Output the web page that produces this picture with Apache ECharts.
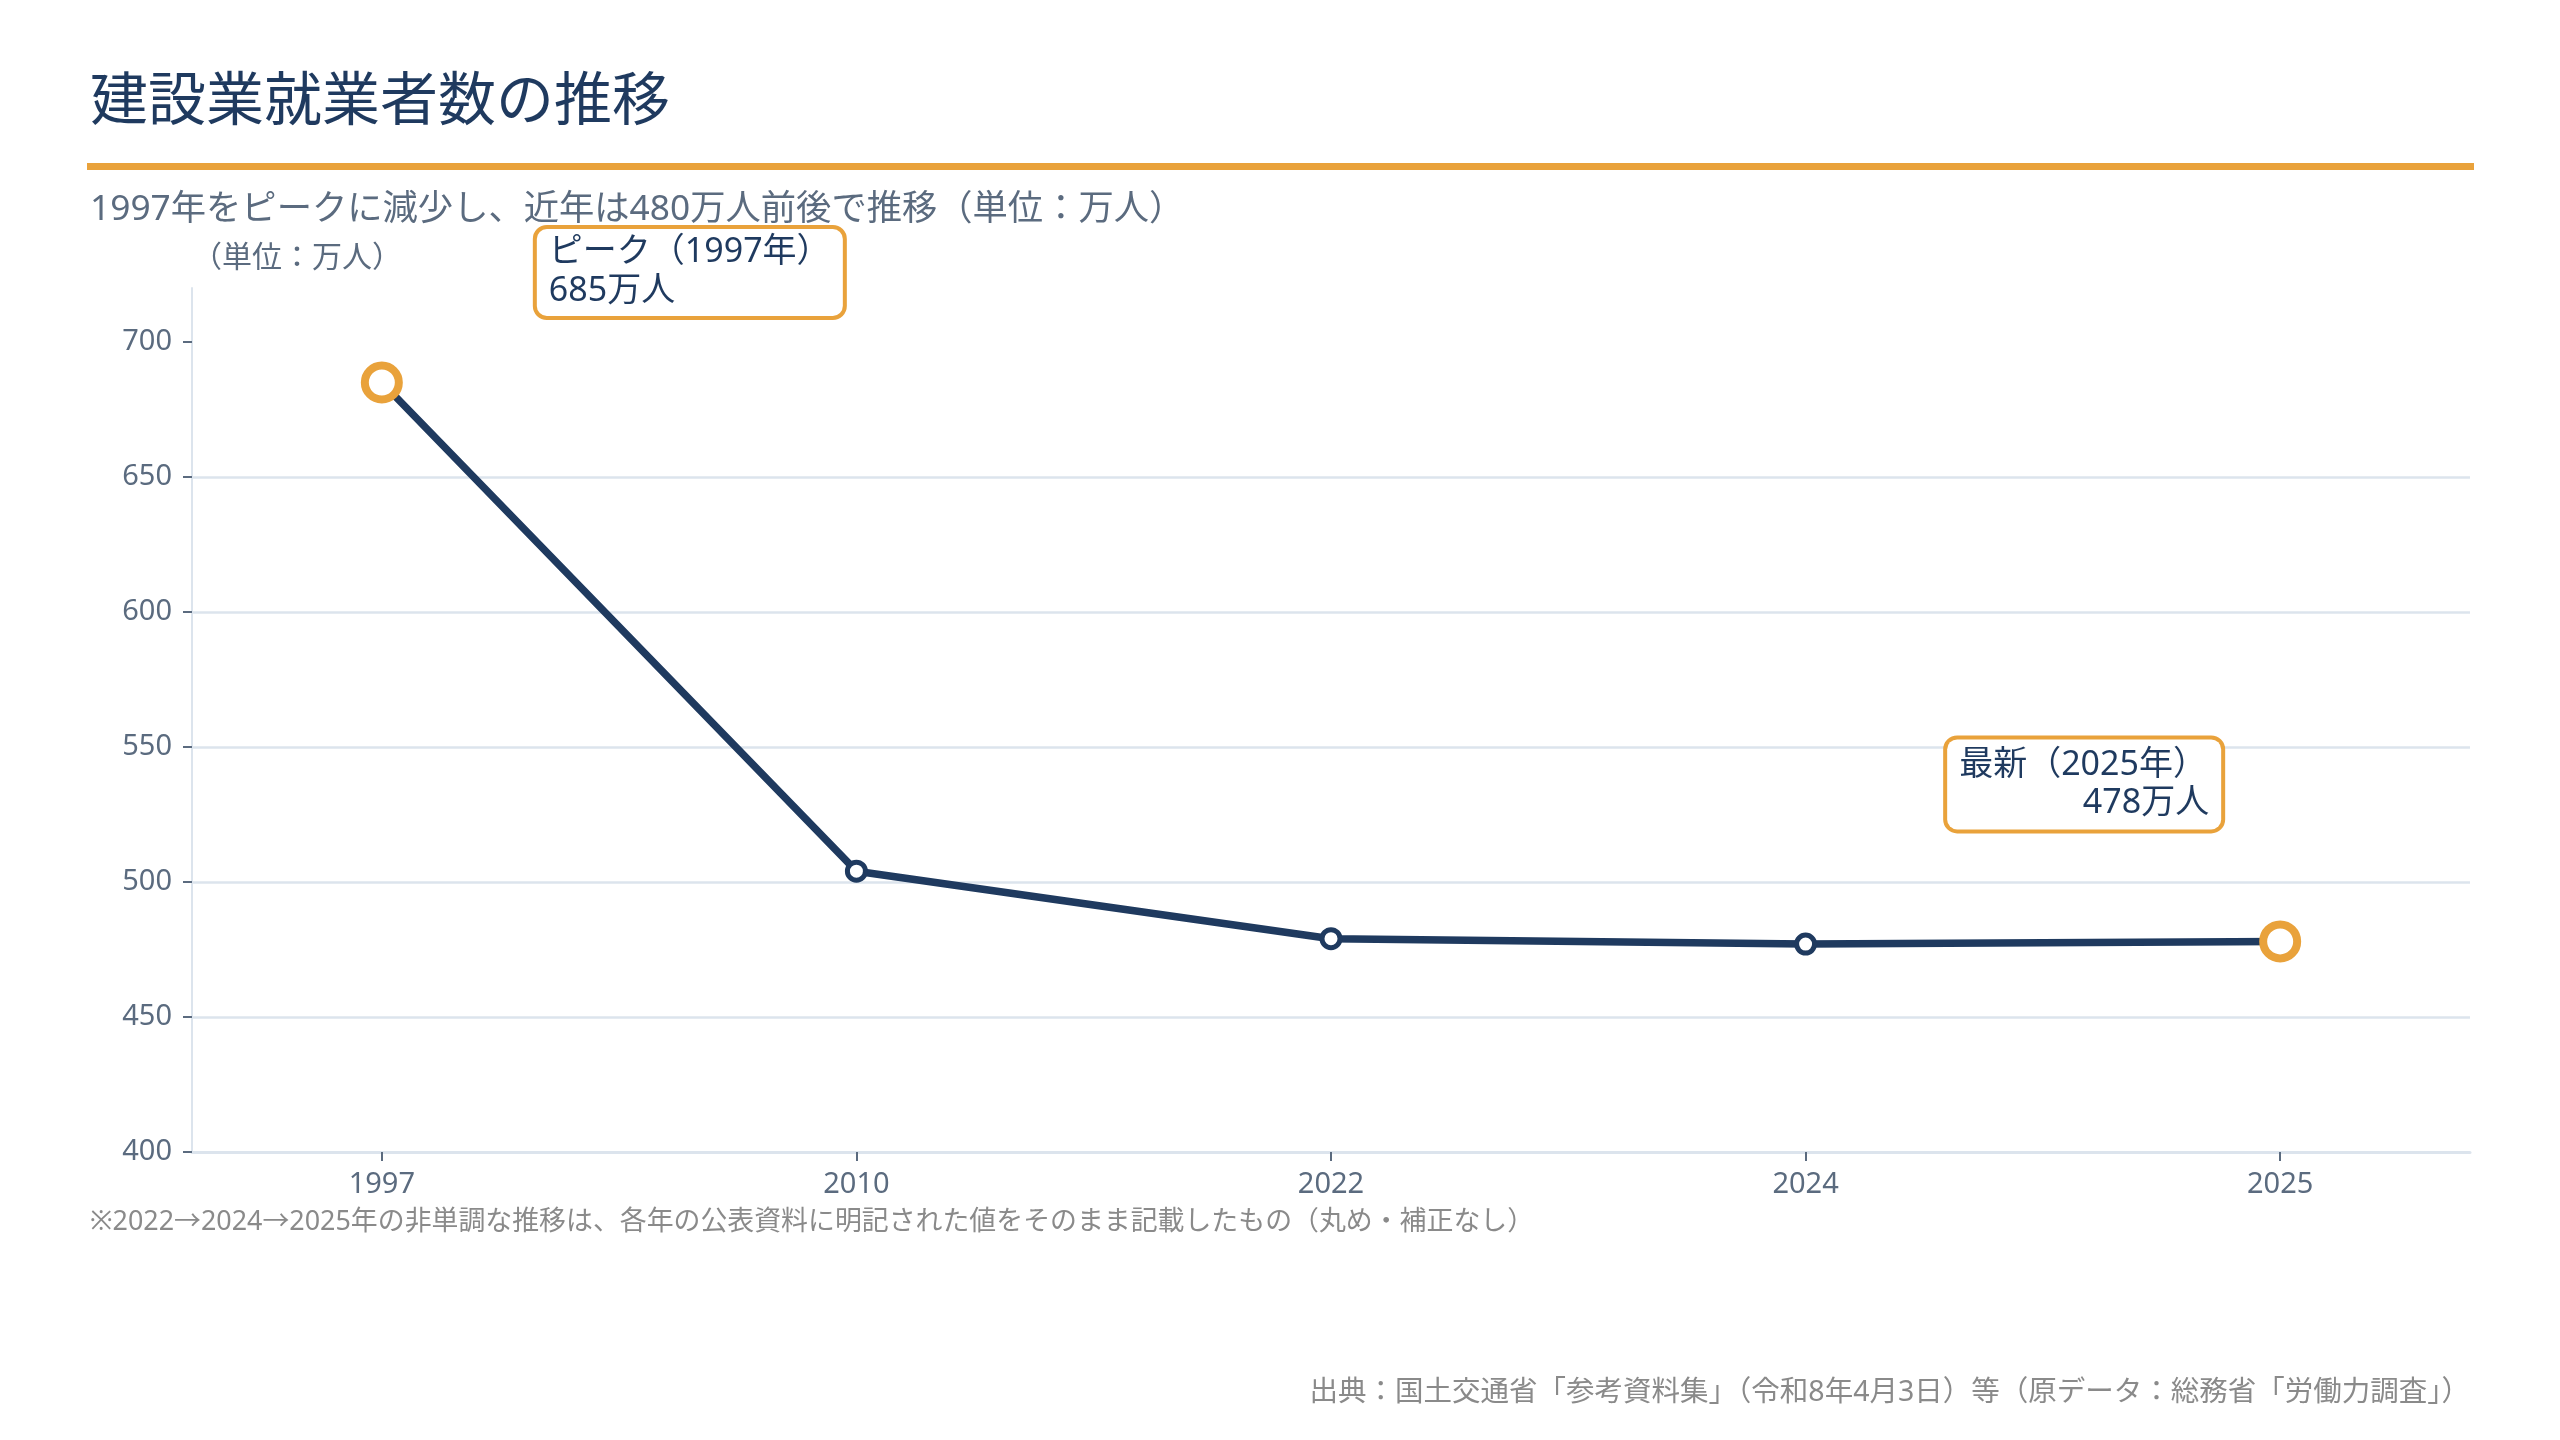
<!DOCTYPE html>
<html>
<head>
<meta charset="utf-8">
<title>建設業就業者数の推移</title>
<script src="https://cdn.jsdelivr.net/npm/echarts@6/dist/echarts.min.js"></script>
<style>
  html, body { margin: 0; padding: 0; background: #fff; }
  #chart { width: 2560px; height: 1440px; }
</style>
</head>
<body>
<div id="chart"></div>
<script>
// 年（カテゴリ）と就業者数（万人）
var years = ['1997', '2010', '2022', '2024', '2025'];
var workers = [685, 504, 479, 477, 478];
// 軸の目盛
var yTicks = [400, 450, 500, 550, 600, 650, 700];
var xTicks = [0, 1, 2, 3, 4];

var NAVY = '#1f3a5f';
var ORANGE = '#e9a23b';
var GRID = '#dce4ed';
var LABEL = '#5b6b7f';
var NOTE = '#8a8a8a';
var FONT = '"Noto Sans", "Noto Sans CJK JP", sans-serif';

var last = workers.length - 1;

// 点のスタイル（両端だけオレンジの大きな丸）
var points = workers.map(function (v, i) {
  var edge = i === 0 || i === last;
  return {
    value: [i, v],
    symbolSize: edge ? 34 : 18,
    itemStyle: {
      color: '#fff',
      borderColor: edge ? ORANGE : NAVY,
      borderWidth: edge ? 8 : 5
    }
  };
});

function boxLabel(extra) {
  var base = {
    show: true,
    position: 'inside',
    backgroundColor: '#fff',
    borderColor: ORANGE,
    borderWidth: 4,
    borderRadius: 10,
    fontSize: 34,
    color: NAVY,
    fontFamily: FONT
  };
  var lh = extra.lineHeight;
  base.rich = {
    l: { align: 'left', fontSize: 34, lineHeight: lh, color: NAVY, fontFamily: FONT },
    r: { align: 'right', fontSize: 34, lineHeight: lh, color: NAVY, fontFamily: FONT }
  };
  return Object.assign(base, extra);
}

var option = {
  animation: false,
  backgroundColor: '#fff',
  textStyle: { fontFamily: FONT },
  title: [{
    text: '建設業就業者数の推移',
    left: 90,
    top: 74,
    padding: 0,
    textStyle: { fontSize: 58, fontWeight: 'normal', color: NAVY, fontFamily: FONT }
  }, {
    text: '1997年をピークに減少し、近年は480万人前後で推移（単位：万人）',
    left: 90,
    top: 192,
    padding: 0,
    textStyle: { fontSize: 35.3, fontWeight: 'normal', color: LABEL, fontFamily: FONT }
  }, {
    text: '※2022→2024→2025年の非単調な推移は、各年の公表資料に明記された値をそのまま記載したもの（丸め・補正なし）',
    left: 90,
    top: 1209,
    padding: 0,
    textStyle: { fontSize: 26.9, fontWeight: 'normal', color: NOTE, fontFamily: FONT }
  }, {
    text: '出典：国土交通省「参考資料集」（令和8年4月3日）等（原データ：総務省「労働力調査」）',
    right: 90,
    top: 1379,
    padding: 0,
    textStyle: { fontSize: 28.5, fontWeight: 'normal', color: NOTE, fontFamily: FONT }
  }],
  graphic: [{
    type: 'rect',
    shape: { x: 87, y: 163, width: 2387, height: 7 },
    style: { fill: ORANGE },
    silent: true
  }],
  grid: { left: 192, right: 90, top: 288, bottom: 288 },
  xAxis: {
    type: 'value',
    min: -0.4,
    max: 4.4,
    splitLine: { show: false },
    axisLine: { show: true, onZero: false, lineStyle: { color: GRID, width: 3 } },
    axisTick: { show: true, customValues: xTicks, length: 9, lineStyle: { color: LABEL, width: 2 } },
    axisLabel: {
      customValues: xTicks,
      formatter: function (v) { return years[Math.round(v)]; },
      fontSize: 29,
      color: LABEL,
      margin: 18
    }
  },
  yAxis: {
    type: 'value',
    min: 400,
    max: 720,
    interval: 50,
    name: '（単位：万人）',
    nameLocation: 'end',
    nameGap: 15,
    nameTextStyle: { fontSize: 30, color: LABEL, align: 'left', fontFamily: FONT },
    axisLine: { show: true, onZero: false, lineStyle: { color: GRID, width: 2 } },
    axisTick: { show: true, customValues: yTicks, length: 9, lineStyle: { color: LABEL, width: 2 } },
    axisLabel: { customValues: yTicks, fontSize: 29, color: LABEL, margin: 20 },
    splitLine: { show: true, showMaxLine: false, lineStyle: { color: GRID, width: 2.5 } }
  },
  series: [{
    type: 'line',
    data: points,
    symbol: 'circle',
    lineStyle: { color: NAVY, width: 7.5 },
    emphasis: { disabled: true },
    z: 3,
    markPoint: {
      silent: true,
      symbol: 'rect',
      symbolSize: 1,
      itemStyle: { color: 'rgba(0,0,0,0)' },
      data: [{
        coord: [0, workers[0]],
        label: boxLabel({
          width: 282,
          lineHeight: 39,
          padding: [4, 12, 5, 12],
          offset: [308, -110],
          formatter: '{l|ピーク（' + years[0] + '年）}\n{l|' + workers[0] + '万人}'
        })
      }, {
        coord: [last, workers[last]],
        label: boxLabel({
          width: 250,
          lineHeight: 38,
          padding: [7, 12, 7, 12],
          offset: [-196, -157],
          formatter: '{l|最新（' + years[last] + '年）}\n{r|' + workers[last] + '万人}'
        })
      }]
    }
  }]
};

var chart = echarts.init(document.getElementById('chart'));
chart.setOption(option);
</script>
</body>
</html>
